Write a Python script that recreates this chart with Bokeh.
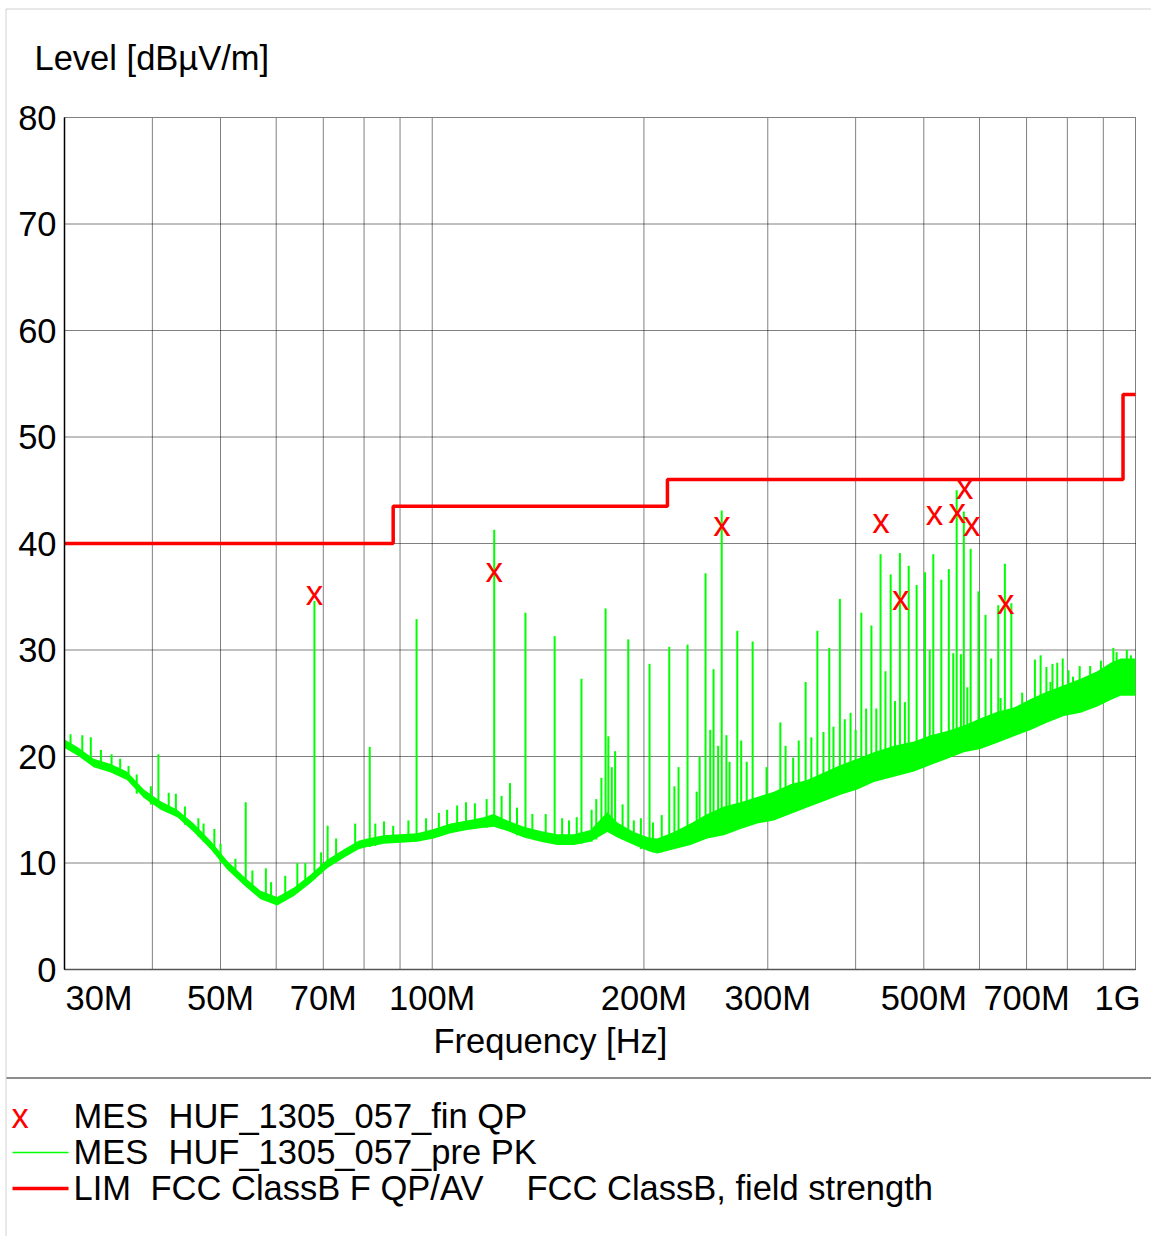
import math
import numpy as np
from bokeh.plotting import figure
from bokeh.models import Range1d, FixedTicker, Label, Arrow, BoxAnnotation
from bokeh.core.properties import value
from bokeh.embed import file_html
from bokeh.resources import INLINE

FONT = "Liberation Sans"
GREEN = "#00ff00"
RED = "#ff0000"

# ---- PK pre-scan: noise-floor band (MHz, lower / upper level in dBuV/m)
floor_mhz = [30.0, 31.3, 33.0, 34.9, 36.8, 38.9, 41.1, 43.4, 45.8, 48.4, 51.1, 54.0,
             57.0, 60.2, 63.6, 67.1, 70.9, 74.9, 78.6, 80.8, 85.4, 90.0, 95.2, 100.5,
             106.2, 112.1, 118.4, 122.2, 127.9, 135.0, 142.6, 150.6, 159.0, 167.9,
             177.4, 183.3, 193.5, 203.2, 208.9, 220.6, 233.0, 246.1, 259.9, 274.4,
             289.9, 306.0, 323.2, 341.4, 360.5, 380.8, 402.2, 424.7, 453.4, 484.3,
             511.3, 540.0, 570.1, 602.2, 636.2, 671.8, 709.3, 749.2, 791.0, 835.6,
             882.6, 921.9, 952.5, 1000.0]
floor_lo = [20.8, 20.1, 19.0, 18.5, 17.8, 16.1, 15.0, 14.3, 12.9, 11.3, 9.4, 7.9,
            6.6, 6.0, 6.9, 8.1, 9.5, 10.5, 11.3, 11.5, 11.8, 11.9, 12.0, 12.3,
            12.8, 13.1, 13.3, 13.4, 13.0, 12.4, 12.0, 11.7, 11.7, 12.0,
            12.9, 12.4, 11.7, 11.1, 10.9, 11.3, 11.7, 12.3, 12.6, 13.2,
            13.7, 14.0, 14.6, 15.2, 15.8, 16.4, 16.9, 17.6, 18.1, 18.6,
            19.2, 19.8, 20.4, 20.7, 21.3, 21.9, 22.5, 23.2, 23.8, 24.1,
            24.7, 25.3, 25.7, 25.7]
floor_hi = [21.6, 20.9, 19.8, 19.3, 18.6, 16.9, 15.8, 15.0, 13.7, 12.1, 10.2, 8.7,
            7.4, 6.8, 7.7, 8.9, 10.3, 11.3, 12.1, 12.3, 12.6, 12.7, 12.8, 13.2,
            13.7, 14.0, 14.3, 14.6, 14.0, 13.4, 13.0, 12.7, 12.7, 13.1,
            14.8, 13.8, 12.9, 12.4, 12.3, 12.9, 13.7, 14.6, 15.3, 15.7,
            16.2, 16.7, 17.4, 17.8, 18.5, 19.2, 19.8, 20.4, 21.0, 21.4,
            22.0, 22.4, 22.9, 23.6, 24.2, 24.6, 25.4, 26.1, 26.7, 27.3,
            28.0, 28.8, 29.2, 29.2]

# ---- PK pre-scan: narrow peaks (MHz, peak level, level at foot)
spike_mhz = [30.6, 31.8, 32.7, 33.8, 35.0, 36.0, 37.0, 38.0, 39.8, 40.8, 42.2, 43.2,
             44.5, 46.5, 47.3, 49.0, 50.0, 52.5, 54.3, 55.5, 58.0, 59.0, 61.8, 64.3,
             66.0, 68.0, 69.5, 71.0, 73.0, 77.7, 81.5, 83.0, 85.4, 88.0, 92.5, 95.0,
             98.0, 102.2, 105.0, 108.5, 111.7, 115.0, 119.5, 122.5, 125.5, 129.0,
             132.0, 135.7, 138.8, 145.0, 149.3, 153.0, 156.5, 160.5, 163.0, 168.5,
             171.1, 174.0, 176.4, 178.0, 180.0, 182.0, 186.5, 190.0, 193.5, 198.0,
             203.7, 206.0, 212.0, 217.3, 221.0, 224.0, 230.7, 237.7, 240.0, 244.7,
             248.5, 251.2, 255.0, 258.0, 262.0, 264.7, 271.5, 275.0, 280.0, 285.5,
             298.8, 312.6, 318.0, 326.0, 332.0, 339.6, 346.0, 352.9, 360.0, 366.9,
             372.0, 379.9, 386.0, 393.4, 400.0, 407.5, 414.0, 421.2, 428.0, 434.0,
             441.0, 448.6, 455.0, 462.4, 470.0, 475.9, 488.4, 502.0, 509.8, 515.8,
             529.5, 542.7, 550.6, 556.8, 564.6, 570.0, 576.6, 582.9, 598.0, 612.0,
             623.4, 638.0, 643.0, 652.0, 666.0, 690.0, 719.4, 733.0, 747.0, 757.0,
             762.0, 774.0, 788.0, 803.0, 815.0, 833.0, 862.0, 893.0, 930.0, 940.0,
             972.0, 985.0]
spike_peak = [22.1, 22.0, 21.8, 20.6, 20.2, 19.8, 19.1, 18.3, 17.2, 20.2, 16.6, 16.5,
              15.3, 14.2, 13.7, 13.2, 11.8, 10.4, 15.7, 9.3, 9.5, 8.2, 8.8, 10.0,
              10.0, 34.6, 11.0, 13.5, 12.3, 13.7, 20.9, 13.7, 13.9, 13.5, 14.0, 32.9,
              14.2, 14.7, 15.0, 15.4, 15.7, 15.6, 16.0, 41.3, 16.3, 17.5,
              15.2, 33.5, 14.6, 14.6, 31.3, 14.2, 14.0, 14.3, 27.3, 15.0,
              16.0, 18.0, 33.9, 21.9, 19.0, 20.5, 15.5, 31.0, 14.0, 14.2,
              28.7, 13.8, 14.5, 30.3, 17.2, 19.0, 30.5, 16.7, 20.0, 37.2,
              22.5, 28.2, 21.0, 43.1, 22.0, 19.5, 31.8, 21.5, 19.5, 30.8,
              19.0, 23.2, 21.0, 19.9, 21.5, 27.0, 21.8, 31.8, 22.3, 30.2,
              22.8, 34.8, 23.5, 24.1, 22.5, 33.5, 24.5, 32.3, 24.5, 39.0,
              28.0, 37.1, 25.2, 39.1, 25.1, 37.9, 36.1, 37.3, 30.0, 39.0,
              36.6, 37.6, 29.7, 45.0, 29.6, 43.0, 26.5, 39.5, 35.5, 33.3,
              29.2, 34.2, 25.5, 38.1, 34.4, 26.0, 29.1, 29.5, 28.4, 27.0,
              28.7, 28.8, 29.2, 28.1, 27.5, 28.5, 28.5, 29.0, 30.2, 29.8,
              30.0, 29.5]
spike_foot = [20.9, 20.5, 19.6, 19.0, 18.6, 18.2, 17.8, 16.5, 15.5, 15.5, 14.8, 14.4,
              13.6, 12.5, 12.0, 11.5, 10.0, 8.8, 8.5, 7.4, 6.6, 6.3, 6.5, 7.2,
              8.0, 8.5, 9.0, 10.0, 10.2, 11.5, 11.5, 11.6, 12.0, 11.9, 12.0, 12.3,
              12.2, 12.5, 12.8, 13.0, 13.2, 13.2, 13.3, 13.5, 13.2, 13.2,
              12.6, 12.5, 12.3, 12.0, 11.8, 11.8, 11.8, 11.8, 11.8, 12.0,
              12.2, 12.8, 13.2, 13.2, 13.0, 12.7, 12.2, 12.0, 11.8, 11.3,
              11.2, 11.0, 11.0, 11.6, 11.8, 12.0, 12.2, 12.4, 12.6, 12.8,
              13.0, 13.2, 13.3, 13.5, 13.6, 13.8, 14.0, 14.1, 14.3, 14.5,
              14.8, 15.2, 15.4, 15.6, 15.8, 16.0, 16.2, 16.4, 16.6, 16.8,
              17.0, 17.2, 17.3, 17.5, 17.6, 17.8, 18.0, 18.2, 18.3, 18.4,
              18.5, 18.6, 18.7, 18.9, 19.0, 19.1, 19.3, 19.6, 19.8, 20.0,
              20.3, 20.6, 20.7, 20.9, 21.0, 21.1, 21.2, 21.3, 21.6, 21.9,
              22.1, 22.4, 22.5, 22.6, 22.9, 23.3, 23.8, 24.1, 24.4, 24.5,
              24.6, 24.8, 25.0, 25.2, 25.4, 25.6, 26.0, 26.4, 26.6, 26.8,
              27.0, 27.0]

# ---- final QP measurements
qp_mhz = [68.0, 122.5, 258.3, 434.5, 463.6, 518.0, 558.0, 571.6, 584.8, 654.0]
qp_level = [35.0, 37.2, 41.5, 41.8, 34.6, 42.5, 42.7, 45.0, 41.5, 34.2]

# ---- limit FCC Class B (field strength)
lim_mhz = [30, 88, 216, 960, 1000]
lim_level = [40, 43.5, 46, 54, 54]

# ---- axes / grid
x_tick_mhz = [50, 70, 100, 200, 300, 500, 700]
x_tick_labels = ["50M", "70M", "100M", "200M", "300M", "500M", "700M"]
x_end_labels = ["30M", "1G"]
x_grid_mhz = [30, 40, 50, 60, 70, 80, 90, 100, 200, 300, 400, 500, 600, 700, 800, 900, 1000]
y_ticks = [0, 10, 20, 30, 40, 50, 60, 70, 80]

title_text = "Level [dBµV/m]"
x_title_text = "Frequency [Hz]"
legend_marker = "x"
legend_rows = [["MES", "HUF_1305_057_fin QP"],
               ["MES", "HUF_1305_057_pre PK"],
               ["LIM", "FCC ClassB F QP/AV", "FCC ClassB, field strength"]]

M = 1e6
def hz(a):
    return np.asarray(a, dtype=float) * M

# ---- page layout (pixels): whole sheet is the frame, chart box inside it
W, H = 1151, 1236
BOX_L, BOX_R, BOX_T, BOX_B = 64, 1135, 117, 969
F0, F1 = 30 * M, 1000 * M
Y0, Y1 = 0, 80
dec_per_px = (math.log10(F1) - math.log10(F0)) / (BOX_R - BOX_L)
db_per_px = (Y1 - Y0) / (BOX_B - BOX_T)
x_range = Range1d(10 ** (math.log10(F0) - BOX_L * dec_per_px),
                  10 ** (math.log10(F1) + (W - BOX_R) * dec_per_px))
y_range = Range1d(Y0 - (H - BOX_B) * db_per_px, Y1 + BOX_T * db_per_px)

p = figure(width=W, height=H, x_axis_type="log", x_range=x_range, y_range=y_range,
           output_backend="svg", toolbar_location=None, tools="", title=None,
           min_border_left=0, min_border_right=0, min_border_top=0,
           min_border_bottom=0)
p.background_fill_color = "white"
p.border_fill_color = "white"
p.outline_line_color = None
p.grid.visible = False

# grid (dotted), limited to the chart box
gx = hz(x_grid_mhz)
p.segment(x0=gx, y0=[Y0] * len(gx), x1=gx, y1=[Y1] * len(gx),
          line_color="#000000", line_dash="1 1", line_width=1)
p.segment(x0=[F0] * len(y_ticks), y0=y_ticks, x1=[F1] * len(y_ticks), y1=y_ticks,
          line_color="#000000", line_dash="1 1", line_width=1)

# axes placed on the chart box
xa, ya = p.xaxis[0], p.yaxis[0]
xa.fixed_location = Y0
xa.bounds = (F0, F1)
ya.fixed_location = F0
ya.bounds = (Y0, Y1)
xa.ticker = FixedTicker(ticks=list(hz(x_tick_mhz)))
xa.major_label_overrides = {float(t): l for t, l in zip(hz(x_tick_mhz), x_tick_labels)}
ya.ticker = FixedTicker(ticks=y_ticks)
for ax in (xa, ya):
    ax.major_label_text_font = FONT
    ax.major_label_text_font_size = "34.5px"
    ax.major_label_text_color = "black"
    ax.major_tick_line_color = None
    ax.minor_tick_line_color = None
    ax.major_tick_out = 0
    ax.major_tick_in = 0
xa.axis_line_color = "#555555"
xa.axis_line_width = 1.5
xa.major_label_standoff = 9
ya.axis_line_color = "black"
ya.axis_line_width = 1.5
ya.major_label_standoff = 8

# data
p.varea(x=hz(floor_mhz), y1=floor_lo, y2=floor_hi, fill_color=GREEN)
p.segment(x0=hz(spike_mhz), y0=spike_foot, x1=hz(spike_mhz), y1=spike_peak,
          line_color=GREEN, line_width=2)
p.step(x=hz(lim_mhz), y=lim_level, mode="after", line_color=RED, line_width=3.5)
p.text(x=hz(qp_mhz), y=qp_level, text=value("x"), text_color=RED,
       text_font=value(FONT), text_font_size=value("35px"),
       text_align="center", text_baseline="alphabetic", y_offset=-4)

# texts (screen units are measured from the bottom-left of the sheet)
TEXT_SHIFT = 13  # rendered alphabetic baseline sits this much lower than asked

def lab(text, x, baseline_from_top, align="left", xu="screen", x_off=0, color="black"):
    p.add_layout(Label(x=x, y=H - baseline_from_top + TEXT_SHIFT, x_units=xu,
                       y_units="screen", x_offset=x_off, text=text, text_font=FONT,
                       text_font_size="34.5px", text_color=color, text_align=align,
                       text_baseline="alphabetic"))

def hline(x0, x1, y_from_top, color, w):
    p.add_layout(Arrow(x_start=x0, y_start=H - y_from_top, x_end=x1,
                       y_end=H - y_from_top, start_units="screen",
                       end_units="screen", start=None, end=None,
                       line_color=color, line_width=w))

lab(title_text, 34, 70)
lab(x_end_labels[0], F0, 1010, "left", "data", 1)
lab(x_end_labels[1], F1, 1010, "right", "data", 5)
lab(x_title_text, 433, 1053)

# sheet border and separator
p.add_layout(BoxAnnotation(left=5.5, right=W + 20, top=H - 8.5, bottom=-20,
                           left_units="screen", right_units="screen",
                           top_units="screen", bottom_units="screen",
                           fill_color=None, line_color="#666666", line_width=1))
hline(6, W, 1077.5, "#666666", 1.5)

# legend
lab(legend_marker, 11, 1128, color=RED)
lab(legend_rows[0][0], 73, 1128)
lab(legend_rows[0][1], 168, 1128)
hline(12, 68, 1152, GREEN, 1.5)
lab(legend_rows[1][0], 73, 1164)
lab(legend_rows[1][1], 168, 1164)
hline(12, 68, 1188, RED, 3.5)
lab(legend_rows[2][0], 73, 1200)
lab(legend_rows[2][1], 150, 1200)
lab(legend_rows[2][2], 526, 1200)

open("out.html", "w").write(file_html(p, INLINE))
